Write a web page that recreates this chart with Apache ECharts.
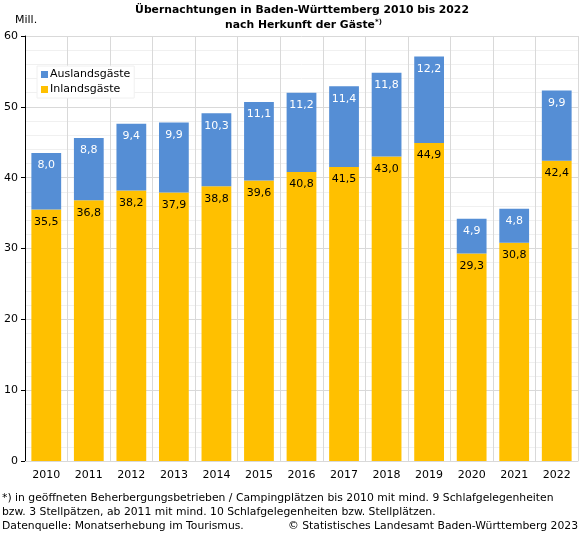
<!DOCTYPE html>
<html><head><meta charset="utf-8">
<script src="https://cdn.jsdelivr.net/npm/echarts@6/dist/echarts.min.js"></script>
<style>html,body{margin:0;padding:0;background:#fff}#c{width:581px;height:534px}</style>
</head><body><div id="c"></div>
<script>
const years = ['2010','2011','2012','2013','2014','2015','2016','2017','2018','2019','2020','2021','2022'];
const inland = [35.5,36.8,38.2,37.9,38.8,39.6,40.8,41.5,43.0,44.9,29.3,30.8,42.4];
const ausland = [8.0,8.8,9.4,9.9,10.3,11.1,11.2,11.4,11.8,12.2,4.9,4.8,9.9];
const yTicks = [0,10,20,30,40,50,60];
const F = 'DejaVu Sans';
const fmt = p => p.value.toFixed(1).replace('.', ',');
const chart = echarts.init(document.getElementById('c'));
chart.setOption({
  animation:false,
  textStyle:{fontFamily:F},
  grid:{left:25,right:3,top:36,bottom:73},
  legend:{
    data:['Auslandsgäste','Inlandsgäste'],orient:'vertical',left:37,top:66,
    itemWidth:7,itemHeight:7,itemGap:4,icon:'rect',
    backgroundColor:'#fff',borderColor:'#f0f0f0',borderWidth:1,padding:[3,4,3,4],
    textStyle:{fontFamily:F,fontSize:11,color:'#000',padding:[0,0,0,-3]}
  },
  xAxis:{
    type:'category',data:years,
    axisLine:{lineStyle:{color:'#d9d9d9'}},axisTick:{show:false},
    axisLabel:{fontFamily:F,fontSize:11,color:'#000',margin:9},
    splitLine:{show:true,lineStyle:{color:'#d9d9d9'}}
  },
  yAxis:{
    type:'value',min:yTicks[0],max:yTicks[yTicks.length-1],interval:10,
    axisLine:{show:true,lineStyle:{color:'#000'}},
    axisTick:{show:true,length:4,lineStyle:{color:'#000'}},
    axisLabel:{fontFamily:F,fontSize:11,color:'#000',margin:7},
    splitLine:{lineStyle:{color:'#d9d9d9'}},
    minorTick:{show:false,splitNumber:5},
    minorSplitLine:{show:true,lineStyle:{color:'#f0f0f0'}}
  },
  series:[
    {name:'Inlandsgäste',type:'bar',stack:'a',data:inland,barWidth:'70%',
     itemStyle:{color:'#FFC000'},
     label:{show:true,position:'insideTop',distance:7,formatter:fmt,fontFamily:F,fontSize:11,color:'#000'}},
    {name:'Auslandsgäste',type:'bar',stack:'a',data:ausland,barWidth:'70%',
     itemStyle:{color:'#558ED5'},
     label:{show:true,position:'insideTop',distance:7,formatter:fmt,fontFamily:F,fontSize:11,color:'#fff'}}
  ],
  graphic:[
    {type:'text',x:302,y:5,style:{text:'Übernachtungen in Baden-Württemberg 2010 bis 2022',font:'bold 10.8px "DejaVu Sans"',fill:'#000',align:'center',verticalAlign:'top'}},
    {type:'text',x:300,y:20,style:{text:'nach Herkunft der Gäste',font:'bold 10.8px "DejaVu Sans"',fill:'#000',align:'center',verticalAlign:'top'}},
    {type:'text',x:375,y:19,style:{text:'*)',font:'bold 7px "DejaVu Sans"',fill:'#000',align:'left',verticalAlign:'top'}},
    {type:'text',x:15,y:15,style:{text:'Mill.',font:'11px "DejaVu Sans"',fill:'#000',align:'left',verticalAlign:'top'}},
    {type:'text',x:2,y:493,style:{text:'*) in geöffneten Beherbergungsbetrieben / Campingplätzen bis 2010 mit mind. 9 Schlafgelegenheiten',font:'10.8px "DejaVu Sans"',fill:'#000',align:'left',verticalAlign:'top'}},
    {type:'text',x:2,y:507,style:{text:'bzw. 3 Stellpätzen, ab 2011 mit mind. 10 Schlafgelegenheiten bzw. Stellplätzen.',font:'10.8px "DejaVu Sans"',fill:'#000',align:'left',verticalAlign:'top'}},
    {type:'text',x:2,y:521,style:{text:'Datenquelle: Monatserhebung im Tourismus.',font:'10.8px "DejaVu Sans"',fill:'#000',align:'left',verticalAlign:'top'}},
    {type:'text',x:578,y:521,style:{text:'© Statistisches Landesamt Baden-Württemberg 2023',font:'10.8px "DejaVu Sans"',fill:'#000',align:'right',verticalAlign:'top'}}
  ]
});
</script></body></html>
